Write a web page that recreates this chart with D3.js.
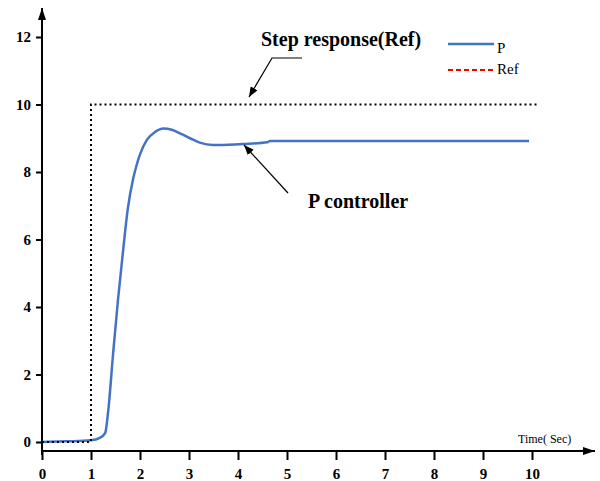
<!DOCTYPE html>
<html>
<head>
<meta charset="utf-8">
<script src="https://cdn.jsdelivr.net/npm/d3@7"></script>
<style>
  body { margin: 0; background: #fff; }
  svg text { font-family: "Liberation Serif", "Times New Roman", serif; }
</style>
</head>
<body>
<svg id="chart"></svg>
<script>
// step response of the P controller
var p_time  = [0, 0.5, 1.0, 1.18, 1.29, 1.35, 1.45, 1.55, 1.65, 1.75, 1.86, 1.93, 2.0, 2.14, 2.31, 2.48, 2.65, 2.85, 3.02, 3.22, 3.49, 3.8, 4.1, 4.6, 4.65, 9.94];
var p_value = [0, 0.02, 0.05, 0.12, 0.27, 0.9, 2.6, 4.2, 5.6, 6.9, 7.8, 8.2, 8.52, 8.95, 9.19, 9.29, 9.25, 9.12, 9.0, 8.87, 8.8, 8.81, 8.83, 8.88, 8.92, 8.92];

// reference step
var ref_time  = [0, 1, 1, 10.1];
var ref_value = [0, 0, 10, 10];

var x_ticks = [0, 1, 2, 3, 4, 5, 6, 7, 8, 9, 10];
var y_ticks = [0, 2, 4, 6, 8, 10, 12];

var width = 600, height = 481;
var serif = '"Liberation Serif", "Times New Roman", serif';
var svg = d3.select('#chart')
  .attr('width', width)
  .attr('height', height);

var x = d3.scaleLinear().domain([0, 10]).range([42, 532]);
var y = d3.scaleLinear().domain([0, 12]).range([442, 37]);
var axis_y = 451;

// arrow heads
var defs = svg.append('defs');
defs.append('marker')
  .attr('id', 'axis_arrow')
  .attr('viewBox', '0 0 12 8')
  .attr('refX', 12).attr('refY', 4)
  .attr('markerWidth', 12).attr('markerHeight', 8)
  .attr('markerUnits', 'userSpaceOnUse')
  .attr('orient', 'auto')
  .append('path').attr('d', 'M0,0 L12,4 L0,8 Z').attr('fill', '#000');
defs.append('marker')
  .attr('id', 'note_arrow')
  .attr('viewBox', '0 0 10 8')
  .attr('refX', 10).attr('refY', 4)
  .attr('markerWidth', 10).attr('markerHeight', 8)
  .attr('markerUnits', 'userSpaceOnUse')
  .attr('orient', 'auto')
  .append('path').attr('d', 'M0,0 L10,4 L0,8 Z').attr('fill', '#000');

// axes
var xAxis = d3.axisBottom(x).tickValues(x_ticks).tickSize(9).tickPadding(8).tickFormat(d3.format('d'));
var gx = svg.append('g').attr('transform', 'translate(0,' + axis_y + ')').call(xAxis);
gx.select('.domain').remove();

var yAxis = d3.axisLeft(y).tickValues(y_ticks).tickSize(6).tickPadding(5).tickFormat(d3.format('d'));
var gy = svg.append('g').attr('transform', 'translate(42,0)').call(yAxis);
gy.select('.domain').remove();

gx.attr('font-family', serif).attr('font-size', 15).attr('font-weight', 'bold');
gy.attr('font-family', serif).attr('font-size', 15).attr('font-weight', 'bold');
svg.selectAll('.tick line').attr('stroke', '#000').attr('stroke-width', 2);
svg.selectAll('.tick text')
  .attr('fill', '#000')
  .style('font-size', '15px')
  .style('font-weight', 'bold')
  .style('font-family', serif);

svg.append('line')
  .attr('x1', 42).attr('y1', axis_y).attr('x2', 595).attr('y2', axis_y)
  .attr('stroke', '#000').attr('stroke-width', 2)
  .attr('marker-end', 'url(#axis_arrow)');
svg.append('line')
  .attr('x1', 42).attr('y1', 455).attr('x2', 42).attr('y2', 8)
  .attr('stroke', '#000').attr('stroke-width', 2)
  .attr('marker-end', 'url(#axis_arrow)');

svg.append('text')
  .attr('x', 518).attr('y', 443)
  .style('font-size', '12px')
  .style('font-family', serif)
  .text('Time( Sec)');

// P response
var p_data = p_time.map(function(d, i) { return [d, p_value[i]]; });
var line = d3.line()
  .x(function(d) { return x(d[0]); })
  .y(function(d) { return y(d[1]); })
  .curve(d3.curveMonotoneX);
svg.append('path')
  .datum(p_data)
  .attr('d', line)
  .attr('fill', 'none')
  .attr('stroke', '#4472C4')
  .attr('stroke-width', 2.5);

// Ref
var ref_data = ref_time.map(function(d, i) { return [d, ref_value[i]]; });
svg.append('path')
  .datum(ref_data)
  .attr('d', d3.line().x(function(d) { return x(d[0]); }).y(function(d) { return y(d[1]); }))
  .attr('fill', 'none')
  .attr('stroke', '#000')
  .attr('stroke-width', 2)
  .attr('stroke-dasharray', '2,3');

// legend
svg.append('line')
  .attr('x1', 448).attr('y1', 44).attr('x2', 494).attr('y2', 44)
  .attr('stroke', '#4472C4').attr('stroke-width', 2.5);
svg.append('text').attr('x', 497).attr('y', 53).style('font-size', '15px').style('font-family', serif).text('P');
svg.append('line')
  .attr('x1', 448).attr('y1', 70).attr('x2', 494).attr('y2', 70)
  .attr('stroke', '#ff0000').attr('stroke-width', 2)
  .attr('stroke-dasharray', '5,3');
svg.append('text').attr('x', 497).attr('y', 74).style('font-size', '15px').style('font-family', serif).text('Ref');

// annotations
svg.append('text')
  .attr('x', 261).attr('y', 46)
  .style('font-size', '20px').style('font-weight', 'bold').style('font-family', serif)
  .text('Step response(Ref)');
svg.append('polyline')
  .attr('points', '302,58 272,58 249,97')
  .attr('fill', 'none').attr('stroke', '#000').attr('stroke-width', 1.2)
  .attr('marker-end', 'url(#note_arrow)');

svg.append('text')
  .attr('x', 308).attr('y', 208)
  .style('font-size', '20px').style('font-weight', 'bold').style('font-family', serif)
  .text('P controller');
svg.append('line')
  .attr('x1', 288).attr('y1', 193).attr('x2', 244).attr('y2', 145)
  .attr('stroke', '#000').attr('stroke-width', 1.2)
  .attr('marker-end', 'url(#note_arrow)');
</script>
</body>
</html>
